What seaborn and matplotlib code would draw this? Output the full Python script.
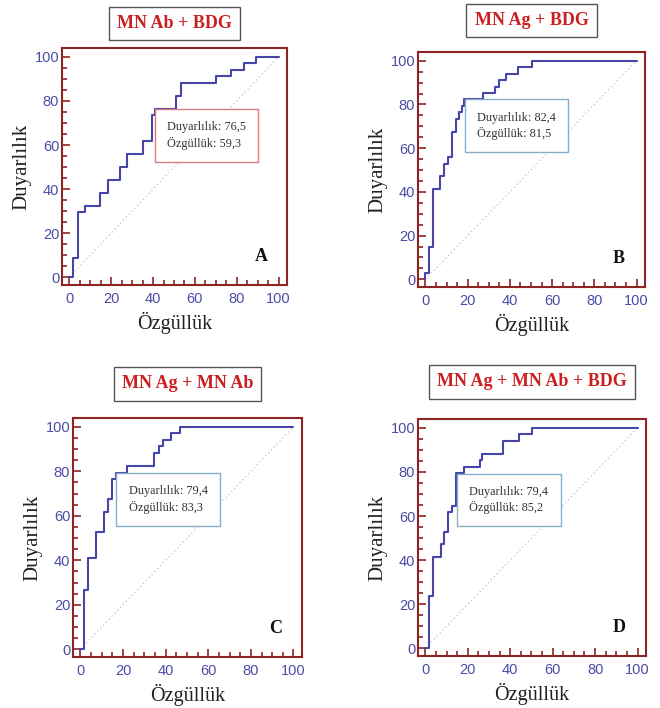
import numpy as np
import pandas as pd
import matplotlib
matplotlib.use("Agg")
import matplotlib.pyplot as plt
import seaborn as sns

# ROC step curves: x = 100 - Özgüllük, y = Duyarlılık
fpr_a = [0, 1.6, 4.0, 7.3, 14.6, 18.5, 24.0, 27.6, 35.0, 39.3, 40.7, 51.2, 53.2, 70.2, 77.3, 83.4, 89.0, 100]
sens_a = [0, 8.8, 29.4, 32.4, 38.2, 44.1, 50.0, 55.9, 61.8, 73.5, 76.5, 82.4, 88.2, 91.2, 94.1, 97.1, 100, 100]

fpr_b = [0, 0, 1.7, 3.8, 7.0, 8.9, 10.6, 12.8, 14.4, 16.0, 17.5, 18.5, 27.4, 33.0, 34.7, 38.2, 43.7, 50.4, 100]
sens_b = [0, 2.9, 14.7, 41.2, 47.1, 52.9, 55.9, 67.6, 73.5, 76.5, 79.4, 82.4, 85.3, 88.2, 91.2, 94.1, 97.1, 100, 100]

fpr_c = [0, 1.6, 3.5, 7.4, 11.0, 12.9, 14.6, 16.5, 22.0, 34.6, 36.7, 38.6, 42.5, 46.5, 100]
sens_c = [0, 26.5, 41.2, 52.9, 61.8, 67.6, 76.5, 79.4, 82.4, 88.2, 91.2, 94.1, 97.1, 100, 100]

fpr_d = [0, 1.7, 3.8, 7.2, 8.8, 10.8, 12.6, 14.6, 18.2, 25.6, 26.9, 36.8, 44.2, 50.2, 100]
sens_d = [0, 23.5, 41.2, 47.1, 52.9, 61.8, 64.7, 79.4, 82.4, 85.3, 88.2, 94.1, 97.1, 100, 100]

titles = ["MN Ab + BDG", "MN Ag + BDG", "MN Ag + MN Ab", "MN Ag + MN Ab + BDG"]
letters = ["A", "B", "C", "D"]
# cut-off points (100 - specificity, sensitivity) and their labels
cut_sens = [76.5, 82.4, 79.4, 79.4]
cut_spec = [59.3, 81.5, 83.3, 85.2]
cut_sens_txt = ["76,5", "82,4", "79,4", "79,4"]
cut_spec_txt = ["59,3", "81,5", "83,3", "85,2"]

curves = [(fpr_a, sens_a), (fpr_b, sens_b), (fpr_c, sens_c), (fpr_d, sens_d)]

# layout in figure pixels: left, right, top, bottom
W, H = 660, 708
boxes_px = [(62, 287, 48, 285), (418, 645, 52, 287), (73, 302, 418, 657), (418, 646, 419, 656)]
title_gap = [24.5, 31.5, 34, 37]
note_edge = ["#e07a7a", "#86aecb", "#86aecb", "#86aecb"]

sns.set_style("white")
plt.rcParams["font.family"] = ["Liberation Serif", "DejaVu Serif"]

spine_col = "#8e2424"
line_col = "#4545aa"
tick_col = "#4b4ba8"

fig = plt.figure(figsize=(W / 100, H / 100), dpi=100)

for i, (fpr, sens) in enumerate(curves):
    l, r, t, b = boxes_px[i]
    ax = fig.add_axes([l / W, 1 - b / H, (r - l) / W, (b - t) / H])
    df = pd.DataFrame({"x": fpr, "y": sens})

    sns.lineplot(x=[0, 100], y=[0, 100], ax=ax, color="#cdb3cd", lw=0.8,
                 linestyle=(0, (1.2, 2.5)))
    sns.lineplot(data=df, x="x", y="y", ax=ax, estimator=None, sort=False,
                 drawstyle="steps-post", color=line_col, lw=1.5)

    ax.set_xlim(-3.5, 104)
    ax.set_ylim(-3.5, 104)
    ax.set_xticks(np.arange(0, 101, 20))
    ax.set_yticks(np.arange(0, 101, 20))
    ax.set_xticks(np.arange(0, 101, 5), minor=True)
    ax.set_yticks(np.arange(0, 101, 5), minor=True)
    ax.tick_params(which="both", direction="in", color=spine_col, width=1.2,
                   bottom=True, left=True, top=False, right=False)
    ax.tick_params(which="major", length=6, labelsize=10.5, labelcolor=tick_col)
    ax.tick_params(which="minor", length=3.5)
    ax.tick_params(axis="x", which="major", pad=5)
    ax.tick_params(axis="y", which="major", pad=2)
    for lab in ax.get_xticklabels() + ax.get_yticklabels():
        lab.set_family("Liberation Sans")
    for sp in ax.spines.values():
        sp.set_color(spine_col)
        sp.set_linewidth(1.5)

    ax.set_xlabel("Özgüllük", fontsize=14.5, color="#222222", labelpad=4)
    ax.set_ylabel("Duyarlılık", fontsize=15, color="#222222", labelpad=2)

    ax.text(0.5, 1 + title_gap[i] / (b - t), titles[i], transform=ax.transAxes,
            ha="center", va="center", fontsize=13, fontweight="bold", color="#cc1f1f",
            bbox=dict(boxstyle="square,pad=0.45", fc="white", ec="#555555", lw=1))

    ax.text(91.5, 9.5, letters[i], ha="center", va="center", fontsize=13,
            fontweight="bold", color="#111111")

    note = "Duyarlılık: " + cut_sens_txt[i] + "\nÖzgüllük: " + cut_spec_txt[i]
    ax.annotate(note, xy=(100 - cut_spec[i], cut_sens[i]), xytext=(9, -9),
                textcoords="offset points", ha="left", va="top", fontsize=8.8,
                color="#333333", linespacing=1.35, zorder=5,
                bbox=dict(boxstyle="square,pad=1.0", fc="white", ec=note_edge[i], lw=1))

fig.savefig("out.png", dpi=100)
